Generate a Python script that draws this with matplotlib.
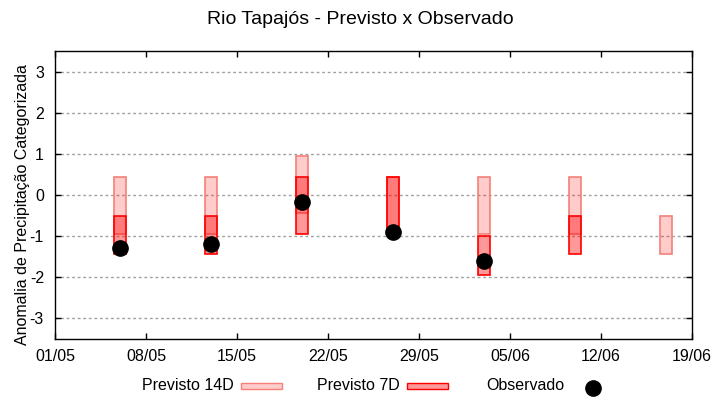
import matplotlib
matplotlib.use("Agg")
import matplotlib.pyplot as plt
import matplotlib.dates as mdates
from matplotlib.patches import Rectangle
from matplotlib.lines import Line2D
import datetime as dt

plt.rcParams['font.family'] = ['Liberation Sans', 'DejaVu Sans']

# ---- data ----
dates = ["2024-05-06", "2024-05-13", "2024-05-20", "2024-05-27",
         "2024-06-03", "2024-06-10", "2024-06-17"]
p14_top = [0.43, 0.43, 0.95, 0.43, 0.43, 0.43, -0.52]
p14_bot = [-0.96, -0.96, -0.45, -0.91, -0.96, -0.96, -1.45]
p7_top = [-0.52, -0.52, 0.43, 0.43, -1.00, -0.52, None]
p7_bot = [-1.45, -1.45, -0.96, -0.91, -1.96, -1.45, None]
obs = [-1.30, -1.20, -0.18, -0.91, -1.61, None, None]
xticks = ["2024-05-01", "2024-05-08", "2024-05-15", "2024-05-22",
          "2024-05-29", "2024-06-05", "2024-06-12", "2024-06-19"]
yticks = [-3, -2, -1, 0, 1, 2, 3]
title = "Rio Tapajós - Previsto x Observado"
ylabel = "Anomalia de Precipitação Categorizada"

d = [mdates.date2num(dt.date.fromisoformat(s)) for s in dates]
xt = [mdates.date2num(dt.date.fromisoformat(s)) for s in xticks]

fig = plt.figure(figsize=(7.2, 4.0), dpi=100)
ax = fig.add_axes([55/720, 1-339/400, (692-55)/720, (339-51)/400])

W = 0.9
c14_face = (1, 0, 0, 0.2)
c14_edge = (0.96, 0.5, 0.47)
c7_face = (1, 0, 0, 0.4)
c7_edge = (1, 0, 0)

for x, t, b in zip(d, p14_top, p14_bot):
    ax.bar(x, t - b, bottom=b, width=W, color=c14_face, edgecolor=c14_edge,
           linewidth=1.2, zorder=2)
for x, t, b in zip(d, p7_top, p7_bot):
    if t is None:
        continue
    ax.bar(x, t - b, bottom=b, width=W, color=c7_face, edgecolor=c7_edge,
           linewidth=1.2, zorder=3)
ox = [x for x, o in zip(d, obs) if o is not None]
oy = [o for o in obs if o is not None]
ax.plot(ox, oy, 'o', color='black', markersize=11, zorder=4, linestyle='none')

ax.set_xlim(xt[0], xt[-1])
ax.set_ylim(-3.52, 3.52)
ax.set_xticks(xt)
ax.set_xticklabels([mdates.num2date(v).strftime("%d/%m") for v in xt])
ax.set_yticks(yticks)
ax.set_yticklabels([str(v) for v in yticks])
ax.yaxis.grid(True, color='#a0a0a0', linestyle=(0, (2, 2)), linewidth=1, zorder=1)
ax.set_axisbelow(True)
ax.tick_params(direction='in', length=4, width=1, top=True, right=True,
               labelsize=11.5, colors='black')
ax.tick_params(axis='x', pad=7)
ax.tick_params(axis='y', pad=8)
for s in ax.spines.values():
    s.set_linewidth(1)

fig.text(0.5, 1-20/400, title, ha='center', va='center', fontsize=14)
fig.text(23/720, 1-205/400, ylabel, rotation=90, ha='center', va='center',
         fontsize=11.5)

# ---- legend (gnuplot style: text then sample) ----
ly = 1 - 386/400
fig.text(142/720, ly, "Previsto 14D", ha='left', va='center', fontsize=11.5)
fig.add_artist(Rectangle((241/720, ly - 3/400), 41/720, 6/400, transform=fig.transFigure,
                         facecolor=c14_face, edgecolor=c14_edge, linewidth=1))
fig.text(317/720, ly, "Previsto 7D", ha='left', va='center', fontsize=11.5)
fig.add_artist(Rectangle((407/720, ly - 3/400), 41/720, 6/400, transform=fig.transFigure,
                         facecolor=c7_face, edgecolor=c7_edge, linewidth=1))
fig.text(486/720, ly, "Observado", ha='left', va='center', fontsize=11.5)
fig.add_artist(Line2D([593/720], [1-388/400], marker='o', color='black',
                      markersize=11, transform=fig.transFigure))

fig.savefig("out.png", dpi=100)
